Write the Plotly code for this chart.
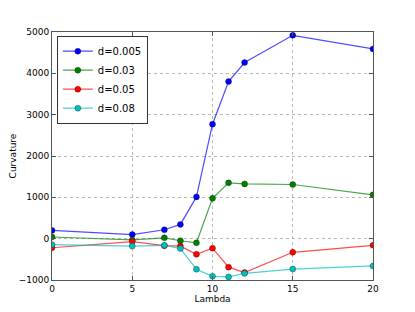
import plotly.graph_objects as go

lam = [0, 5, 7, 8, 9, 10, 11, 12, 15, 20]
d_005 = [200, 100, 215, 345, 1010, 2770, 3800, 4260, 4920, 4590]
d_03 = [40, -30, 20, -50, -100, 975, 1350, 1325, 1310, 1060]
d_05 = [-220, -70, -170, -180, -380, -230, -690, -820, -330, -160]
d_08 = [-145, -180, -160, -240, -740, -910, -925, -840, -735, -660]

series = [
    ("d=0.005", d_005, "rgba(0,0,255,0.7)", "#0000ff"),
    ("d=0.03", d_03, "rgba(0,128,0,0.7)", "#008000"),
    ("d=0.05", d_05, "rgba(255,0,0,0.7)", "#ff0000"),
    ("d=0.08", d_08, "rgba(0,191,191,0.7)", "#00bfbf"),
]

fig = go.Figure()
for name, ys, lc, mc in series:
    fig.add_trace(go.Scatter(
        x=lam, y=ys, name=name, mode="lines+markers",
        line=dict(color=lc, width=1.2),
        marker=dict(color=mc, size=6, line=dict(color="rgba(0,0,0,0.6)", width=0.5)),
    ))

axis_common = dict(
    showgrid=True, gridcolor="#b8b8b8", griddash="dot", gridwidth=1,
    showline=True, linecolor="#555555", linewidth=1, mirror="allticks",
    ticks="inside", ticklen=4, tickcolor="#555555",
    zeroline=False, automargin=False,
    tickfont=dict(family="DejaVu Sans", size=9, color="black"),
)

fig.update_layout(
    width=415, height=312,
    margin=dict(l=44, r=50, t=24, b=40),
    paper_bgcolor="white", plot_bgcolor="white",
    xaxis=dict(range=[0, 20], tickvals=[0, 5, 10, 15, 20],
               title=dict(text="Lambda", font=dict(family="DejaVu Sans", size=9, color="black"), standoff=0),
               **axis_common),
    yaxis=dict(range=[-1000, 5000], tickvals=[-1000, 0, 1000, 2000, 3000, 4000, 5000],
               ticktext=["\u22121000", "0", "1000", "2000", "3000", "4000", "5000"],
               title=dict(text="Curvature", font=dict(family="DejaVu Sans", size=9, color="black"), standoff=0),
               **axis_common),
    legend=dict(x=0.015, y=0.985, xanchor="left", yanchor="top",
                bgcolor="white", bordercolor="#333333", borderwidth=1,
                font=dict(family="DejaVu Sans", size=10, color="black"),
                tracegroupgap=0, itemwidth=30),
    showlegend=True,
)

fig.write_html("out.html")
